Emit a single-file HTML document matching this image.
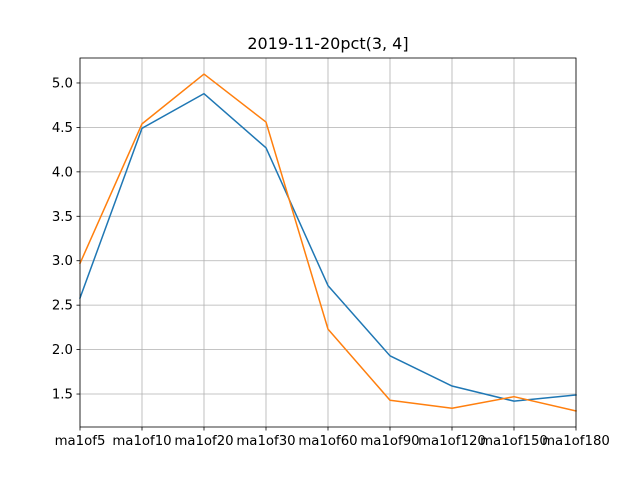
<!DOCTYPE html>
<html><head><meta charset="utf-8"><style>
body{margin:0;background:#fff;}
svg{display:block;font-family:"DejaVu Sans","Liberation Sans",sans-serif;}
</style></head><body>
<svg id="chart" width="640" height="480"></svg>
<script>
const categories=["ma1of5","ma1of10","ma1of20","ma1of30","ma1of60","ma1of90","ma1of120","ma1of150","ma1of180"];
const seriesBlue=[2.58,4.49,4.88,4.27,2.72,1.93,1.59,1.42,1.49];
const seriesOrange=[2.97,4.54,5.10,4.56,2.23,1.43,1.34,1.47,1.31];
const yTicks=[1.5,2.0,2.5,3.0,3.5,4.0,4.5,5.0];
const yTickLabels=["1.5","2.0","2.5","3.0","3.5","4.0","4.5","5.0"];
const titleText="2019-11-20pct(3, 4]";

const NS="http://www.w3.org/2000/svg";
const svg=document.getElementById('chart');
const L=80,R=576,T=58,B=427,yMin=1.129,yMax=5.281;
const xs=i=>L+(R-L)*i/(categories.length-1);
const ys=v=>B-(v-yMin)/(yMax-yMin)*(B-T);
function mk(tag,attrs){const e=document.createElementNS(NS,tag);for(const k in attrs)e.setAttribute(k,attrs[k]);svg.appendChild(e);return e;}

// grid + x ticks
categories.forEach((c,i)=>{
  const g=mk('line',{x1:xs(i),x2:xs(i),y1:T,y2:B,stroke:'#b0b0b0','stroke-width':0.8});
  
  
  const t=mk('line',{x1:xs(i),x2:xs(i),y1:B,y2:B+3.5,stroke:'#000','stroke-width':0.8});
  
  
  const tx=mk('text',{x:xs(i),y:B+18,'text-anchor':'middle','font-size':'13.3px',fill:'#000'});
  tx.textContent=c;
  
  
});
yTicks.forEach((v,i)=>{
  const g=mk('line',{x1:L,x2:R,y1:ys(v),y2:ys(v),stroke:'#b0b0b0','stroke-width':0.8});
  
  
  const t=mk('line',{x1:L-3.5,x2:L,y1:ys(v),y2:ys(v),stroke:'#000','stroke-width':0.8});
  
  
  const tx=mk('text',{x:L-7,y:ys(v)+4.5,'text-anchor':'end','font-size':'13.3px',fill:'#000'});
  tx.textContent=yTickLabels[i];
  
  
});
function line(vals,color,name){
  const p=mk('polyline',{points:vals.map((v,i)=>xs(i)+','+ys(v)).join(' '),fill:'none',stroke:color,'stroke-width':1.5,'stroke-linejoin':'round','stroke-linecap':'square'});
  
  
}
line(seriesBlue,'#1f77b4','series-blue-line');
line(seriesOrange,'#ff7f0e','series-orange-line');
const fr=mk('rect',{x:L,y:T,width:R-L,height:B-T,fill:'none',stroke:'#000','stroke-width':0.8});


const ti=mk('text',{x:(L+R)/2,y:T-9,'text-anchor':'middle','font-size':'16px',fill:'#000'});
ti.textContent=titleText;


</script>
</body></html>
